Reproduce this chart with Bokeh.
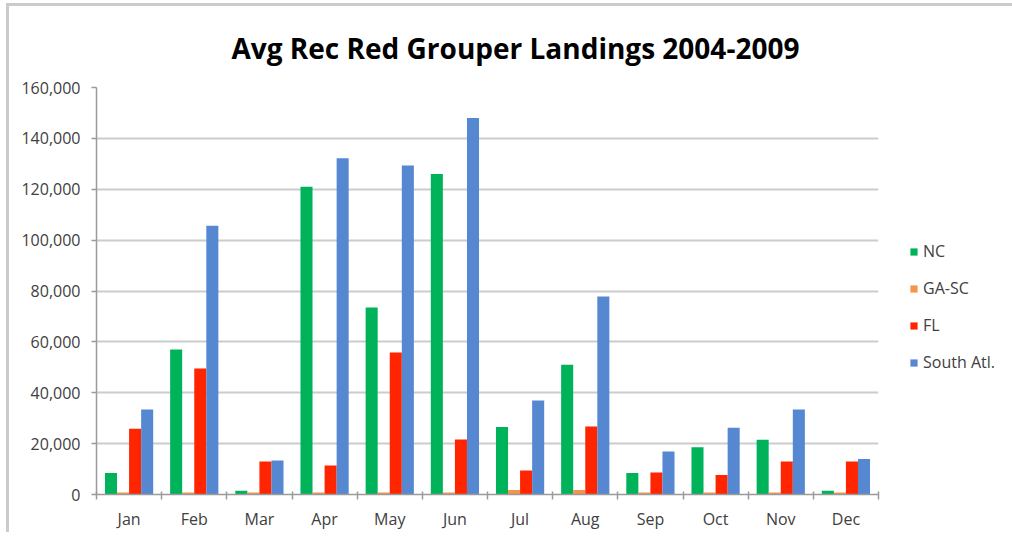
from bokeh.plotting import figure
from bokeh.models import (ColumnDataSource, Legend, LegendItem, FixedTicker,
                          NumeralTickFormatter, Range1d)
from bokeh.embed import file_html
from bokeh.resources import INLINE

months = ["Jan", "Feb", "Mar", "Apr", "May", "Jun", "Jul", "Aug", "Sep", "Oct", "Nov", "Dec"]
nc = [8500, 57000, 1500, 121000, 73500, 126000, 26500, 51000, 8500, 18600, 21500, 1500]
ga_sc = [800, 800, 800, 800, 800, 800, 1800, 1800, 800, 800, 800, 800]
fl = [25800, 49500, 13000, 11400, 55800, 21600, 9400, 26700, 8600, 7700, 13000, 13000]
south_atl = [33400, 105700, 13400, 132200, 129300, 148000, 37000, 77800, 16900, 26200, 33400, 14000]

series_names = ["NC", "GA-SC", "FL", "South Atl."]
series_values = [nc, ga_sc, fl, south_atl]
colors = ["#00B35A", "#F5954A", "#FF2500", "#5688D2"]
offsets = [-0.2775, -0.0925, 0.0925, 0.2775]
bar_w = 0.185

FONT = "Open Sans"
LBL = "#404040"

p = figure(frame_width=782, frame_height=407, output_backend="svg", toolbar_location=None,
           x_range=Range1d(0, len(months)), y_range=Range1d(0, 160000),
           min_border_left=87, min_border_right=120, min_border_top=81, min_border_bottom=35,
           title="Avg Rec Red Grouper Landings 2004-2009")
p.styles = {"margin-left": "6px", "margin-top": "3px",
            "border-left": "3px solid #cbcbcb", "border-top": "3px solid #cbcbcb"}

p.title.align = "left"
p.title.offset = 135
p.title.standoff = 41
p.title.text_font = FONT
p.title.text_font_size = "28px"
p.title.text_font_style = "bold"
p.title.text_color = "#000000"

p.outline_line_color = None
p.background_fill_color = "white"
p.border_fill_color = "white"

centers = [i + 0.5 for i in range(len(months))]
items = []
for name, vals, col, off in zip(series_names, series_values, colors, offsets):
    src = ColumnDataSource(dict(x=[c + off for c in centers], top=vals))
    r = p.vbar(x="x", top="top", width=bar_w, source=src, fill_color=col, line_color=None)
    items.append(LegendItem(label=name, renderers=[r]))

# axes
p.xaxis.ticker = FixedTicker(ticks=centers, minor_ticks=list(range(len(months) + 1)))
p.xaxis.major_label_overrides = {c: m for c, m in zip(centers, months)}
p.xaxis.major_tick_line_color = None
p.xaxis.major_tick_in = 0
p.xaxis.major_tick_out = 0
p.xaxis.minor_tick_line_color = "#9a9a9a"
p.xaxis.minor_tick_line_width = 1.5
p.xaxis.minor_tick_in = 3
p.xaxis.minor_tick_out = 5
p.xaxis.axis_line_color = "#9a9a9a"
p.xaxis.axis_line_width = 1.5
p.xaxis.major_label_standoff = 8
p.xaxis.major_label_text_font = FONT
p.xaxis.major_label_text_font_size = "16px"
p.xaxis.major_label_text_color = LBL

p.yaxis.ticker = FixedTicker(ticks=list(range(0, 160001, 20000)))
p.yaxis.formatter = NumeralTickFormatter(format="0,0")
p.yaxis.major_tick_line_color = "#9a9a9a"
p.yaxis.major_tick_line_width = 1.5
p.yaxis.major_tick_in = 0
p.yaxis.major_tick_out = 5
p.yaxis.minor_tick_line_color = None
p.yaxis.axis_line_color = "#9a9a9a"
p.yaxis.axis_line_width = 1.5
p.yaxis.major_label_standoff = 11
p.yaxis.major_label_text_font = FONT
p.yaxis.major_label_text_font_size = "16px"
p.yaxis.major_label_text_color = LBL

p.xgrid.grid_line_color = None
p.ygrid.grid_line_color = "#cccccc"
p.ygrid.grid_line_width = 2

legend = Legend(items=items, location=(31, 121), margin=0, padding=10,
                glyph_width=9, glyph_height=9, label_standoff=5,
                spacing=17, label_height=20,
                label_text_font=FONT, label_text_font_size="16px",
                label_text_color=LBL, border_line_color=None,
                background_fill_alpha=0)
legend.spacing = 15
p.add_layout(legend, "right")

open("out.html", "w").write(file_html(p, INLINE))
